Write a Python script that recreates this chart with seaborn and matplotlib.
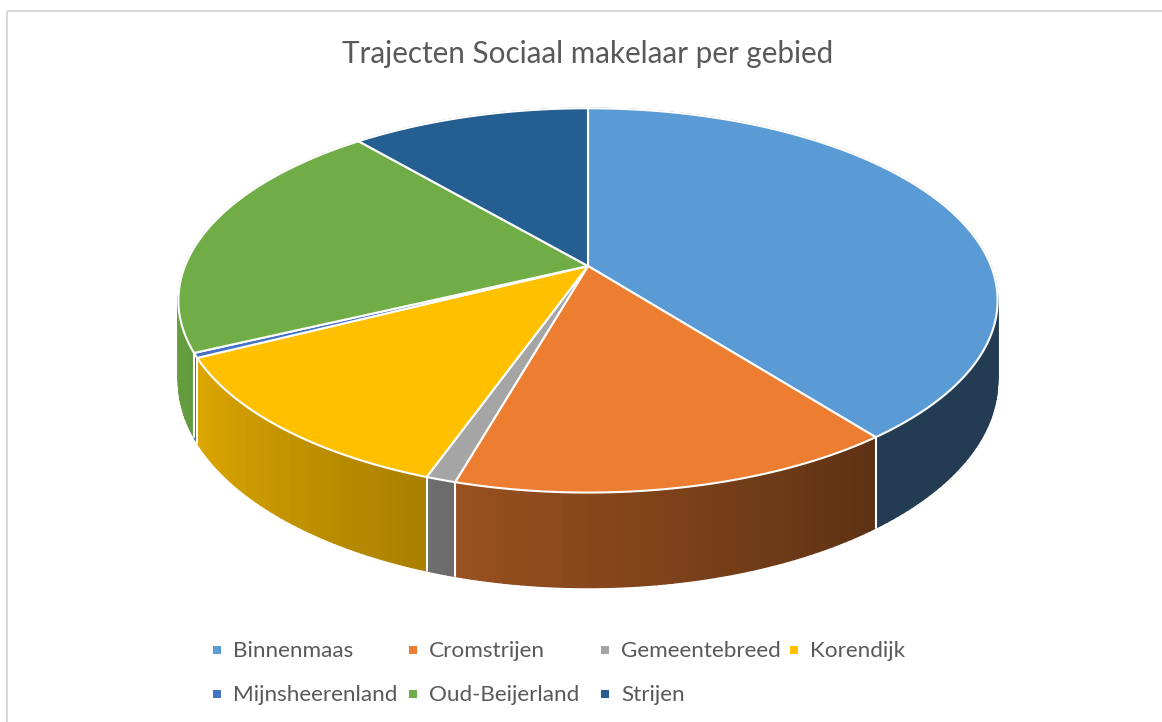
import numpy as np
import matplotlib
matplotlib.use("Agg")
import matplotlib.pyplot as plt
import seaborn as sns
from matplotlib.patches import Polygon, Rectangle


title = "Trajecten Sociaal makelaar per gebied"

regions = [
    "Binnenmaas",
    "Cromstrijen",
    "Gemeentebreed",
    "Korendijk",
    "Mijnsheerenland",
    "Oud-Beijerland",
    "Strijen",
]

# share per region in %
shares = [39.5, 14.9, 1.0, 12.1, 0.4, 20.9, 11.2]

colors = [
    "#5B9BD5",
    "#ED7D31",
    "#A5A5A5",
    "#FFC000",
    "#4472C4",
    "#70AD47",
    "#255E91",
]

# legend layout (row-major, 4 per row like Excel)
legend_cols = [217, 413, 605, 794]
legend_rows = [657, 701]

sns.set_theme(style="white")
plt.rcParams["font.family"] = ["Lato", "DejaVu Sans"]

text_color = "#595959"

# 3d pie geometry (pixels): apex, radius, tilt, perspective, depth
CX, CY = 588, 266
R, A = 403, 186
K = 0.179
D = 78


def project(theta, z=0.0):
    s = 1.0 / (1.0 + K * np.cos(theta))
    x = CX + R * np.sin(theta) * s
    y = CY - A * np.cos(theta) * s + z * D * s
    return x, y


def shade(theta):
    deg = np.degrees(theta)
    return np.clip(0.39 + (deg - 142) * 0.0048, 0.39, 0.9)


fractions = np.array(shares) / np.sum(shares)
edges = np.concatenate([[0.0], np.cumsum(fractions)]) * 2 * np.pi

fig = plt.figure(figsize=(11.62, 7.22), dpi=100)
ax = fig.add_axes([0, 0, 1, 1])
ax.set_xlim(0, 1162)
ax.set_ylim(722, 0)
ax.axis("off")

# side walls, back to front
quads = []
for i, col in enumerate(colors):
    a0, a1 = edges[i], edges[i + 1]
    n = max(2, int(np.degrees(a1 - a0)) + 2)
    th = np.linspace(a0, a1, n)
    base = np.array(matplotlib.colors.to_rgb(col))
    for t0, t1 in zip(th[:-1], th[1:]):
        mid = 0.5 * (t0 + t1)
        pts = [project(t0), project(t1), project(t1, 1), project(t0, 1)]
        c = np.clip(base * shade(mid), 0, 1)
        quads.append((np.cos(mid), pts, c))

quads.sort(key=lambda q: -q[0])
for _, pts, c in quads:
    ax.add_patch(Polygon(pts, closed=True, facecolor=c, edgecolor=c, lw=1.0))

# white separators on the visible wall
for a in edges[:-1]:
    if np.cos(a) < -0.2:
        x0, y0 = project(a)
        x1, y1 = project(a, 1)
        ax.plot([x0, x1], [y0, y1], color="white", lw=1.5)

# top faces
for i, col in enumerate(colors):
    a0, a1 = edges[i], edges[i + 1]
    n = max(3, int(np.degrees(a1 - a0) * 2) + 2)
    th = np.linspace(a0, a1, n)
    xs, ys = project(th)
    pts = [(CX, CY)] + list(zip(xs, ys))
    ax.add_patch(Polygon(pts, closed=True, facecolor=col, edgecolor="white",
                         lw=1.5, joinstyle="round"))

# chart border
ax.add_patch(Rectangle((7, 11), 1300, 900, fill=False,
                       edgecolor="#D9D9D9", lw=1.5))

ax.text(588, 63, title, ha="center", va="baseline", fontsize=21.3,
        color=text_color)

# legend
for i, (name, col) in enumerate(zip(regions, colors)):
    x = legend_cols[i % 4]
    y = legend_rows[i // 4]
    ax.scatter([x], [y - 7], marker="s", s=30, color=col, linewidths=0)
    ax.text(x + 16, y, name, ha="left", va="baseline", fontsize=16.2,
            color=text_color)

fig.savefig("out.png", dpi=100)
